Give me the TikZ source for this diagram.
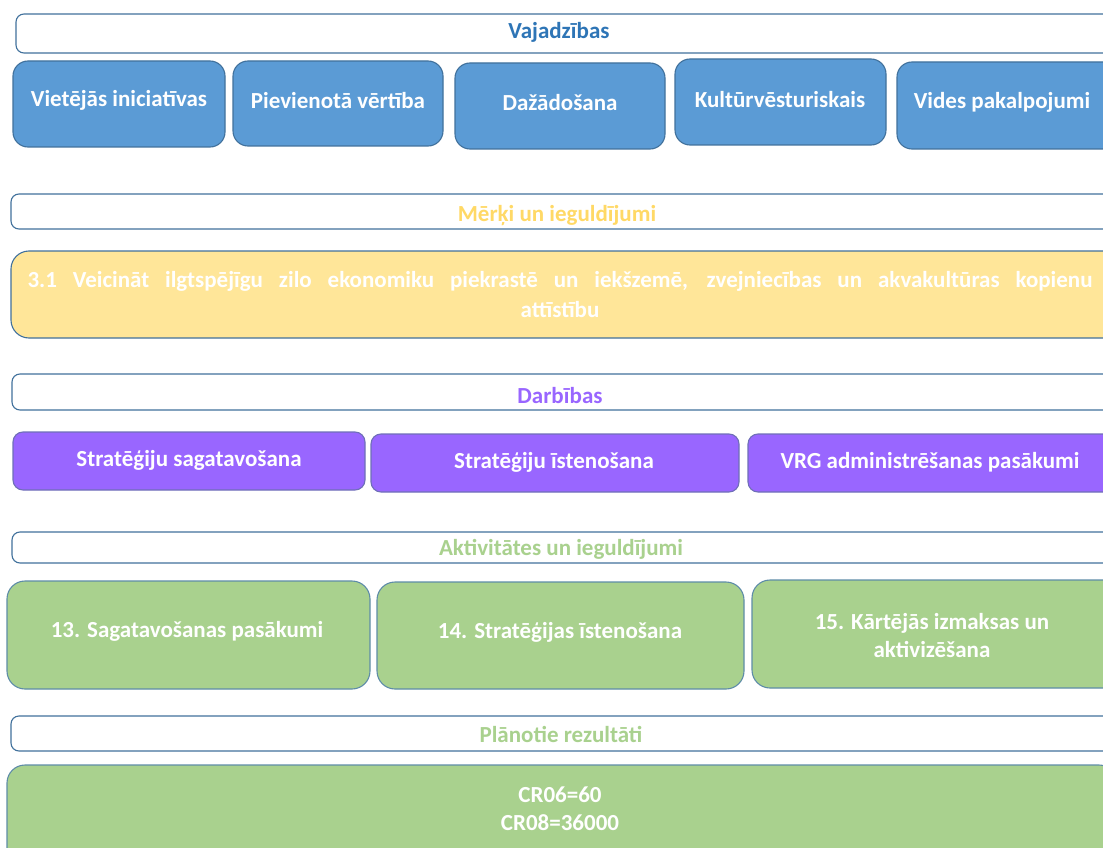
\documentclass[tikz,border=0pt]{standalone}
\usepackage{fontspec}
\setmainfont{Carlito}
\definecolor{bluefill}{HTML}{5B9BD5}
\definecolor{bluetext}{HTML}{2E75B6}
\definecolor{edge}{HTML}{41719C}
\definecolor{yellowfill}{HTML}{FFE699}
\definecolor{goldtext}{HTML}{FFD966}
\definecolor{purplefill}{HTML}{9966FF}
\definecolor{purpleedge}{HTML}{6F6FB8}
\definecolor{greenfill}{HTML}{A9D18E}
\definecolor{greenedge}{HTML}{5E8CA8}
\tikzset{
  base/.style={anchor=north west, inner sep=0pt, outer sep=0pt, line width=1.1pt, align=center},
  header/.style={base, draw=edge, fill=white, rounded corners=8pt},
  bluebox/.style={base, draw=edge, fill=bluefill, rounded corners=15pt},
  yellowbox/.style={base, draw=edge, fill=yellowfill, rounded corners=18pt},
  purplebox/.style={base, draw=purpleedge, fill=purplefill, rounded corners=10pt},
  greenbox/.style={base, draw=greenedge, fill=greenfill, rounded corners=18pt},
  lbl/.style={inner sep=0pt, text=white, yshift=-1.5pt, font=\bfseries\fontsize{23}{28.5}\selectfont},
}
\begin{document}
\begin{tikzpicture}[x=1pt,y=-1pt]
\clip (0,0) rectangle (1103,848);
\fill[white] (0,0) rectangle (1103,848);
% Vajadzibas
\node[header, minimum width=1110pt, minimum height=39pt] (h1) at (16,14) {};
\node[lbl, text=bluetext] (h1t) at (559,31) {Vajadzības};
\node[bluebox, minimum width=212pt, minimum height=86pt] (b1) at (13,61) {};
\node[lbl] (b1t) at (119,99) {Vietējās iniciatīvas};
\node[bluebox, minimum width=210pt, minimum height=85pt] (b2) at (233,61) {};
\node[lbl] (b2t) at (338,99) {Pievienotā vērtība};
\node[bluebox, minimum width=210pt, minimum height=86pt] (b3) at (455,63) {};
\node[lbl] (b3t) at (560,101) {Dažādošana};
\node[bluebox, minimum width=211pt, minimum height=86pt] (b4) at (675,59) {};
\node[lbl] (b4t) at (780,98) {Kultūrvēsturiskais};
\node[bluebox, minimum width=230pt, minimum height=87pt] (b5) at (897,62) {};
\node[lbl] (b5t) at (1002,101) {Vides pakalpojumi};
% Merki
\node[header, minimum width=1110pt, minimum height=35pt] (h2) at (11,194) {};
\node[lbl, text=goldtext] (h2t) at (557,214) {Mērķi un ieguldījumi};
\node[yellowbox, minimum width=1110pt, minimum height=87pt] (y1) at (11,251) {};
\node[lbl, align=center, font=\bfseries\fontsize{23}{30}\selectfont] (y1t) at (560,293) {\makebox[1065pt][s]{3.1 Veicināt ilgtspējīgu zilo ekonomiku piekrastē un iekšzemē, zvejniecības un akvakultūras kopienu}\\attīstību};
% Darbibas
\node[header, minimum width=1110pt, minimum height=36pt] (h3) at (12,374) {};
\node[lbl, text=purplefill] (h3t) at (560,394) {Darbības};
\node[purplebox, minimum width=352pt, minimum height=58pt] (p1) at (13,432) {};
\node[lbl] (p1t) at (189,459) {Stratēģiju sagatavošana};
\node[purplebox, minimum width=368pt, minimum height=58pt] (p2) at (371,434) {};
\node[lbl] (p2t) at (554,461) {Stratēģiju īstenošana};
\node[purplebox, minimum width=380pt, minimum height=58pt] (p3) at (748,434) {};
\node[lbl] (p3t) at (930,461) {VRG administrēšanas pasākumi};
% Aktivitates
\node[header, minimum width=1110pt, minimum height=31pt] (h4) at (12,532) {};
\node[lbl, text=greenfill] (h4t) at (561,548) {Aktivitātes un ieguldījumi};
\node[greenbox, minimum width=363pt, minimum height=108pt] (g1) at (7,581) {};
\node[lbl] (g1t) at (187,630) {13. Sagatavošanas pasākumi};
\node[greenbox, minimum width=367pt, minimum height=107pt] (g2) at (377,582) {};
\node[lbl] (g2t) at (560,631) {14. Stratēģijas īstenošana};
\node[greenbox, minimum width=380pt, minimum height=108pt] (g3) at (752,580) {};
\node[lbl, align=center] (g3t) at (932,634) {15. Kārtējās izmaksas un\\aktivizēšana};
% Planotie
\node[header, minimum width=1110pt, minimum height=35pt] (h5) at (11,716) {};
\node[lbl, text=greenfill] (h5t) at (561,733) {Plānotie rezultāti};
\node[greenbox, minimum width=1110pt, minimum height=110pt] (g4) at (7,765) {};
\node[lbl, align=center] (g4t) at (560,807) {CR06=60\\CR08=36000};
\end{tikzpicture}
\end{document}
